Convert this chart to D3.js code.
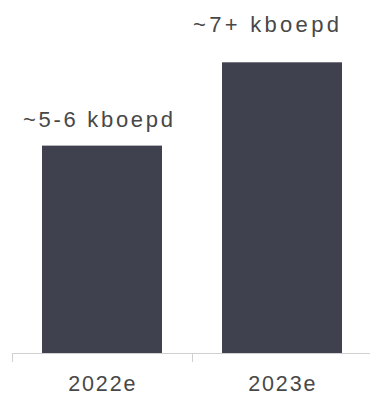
<!DOCTYPE html>
<html><head><meta charset="utf-8">
<script src="https://cdn.jsdelivr.net/npm/d3@7"></script>
<style>body{margin:0;background:#fff}svg{display:block}</style>
</head><body>
<svg id="c" width="370" height="396"></svg>
<script>
const categories = ["2022e", "2023e"];
const values = [5.14, 7.2];
const labels = ["~5-6 kboepd", "~7+ kboepd"];

const svg = d3.select("#c");
const x = d3.scaleBand().domain(categories).range([12, 372]).paddingInner(1/3).paddingOuter(1/6);
const y = d3.scaleLinear().domain([0, 7.2]).range([353.5, 62.3]);

svg.selectAll("rect.bar").data(categories).join("rect")
  .attr("class", "bar")
  .attr("x", d => x(d))
  .attr("width", x.bandwidth())
  .attr("y", (d, i) => y(values[i]))
  .attr("height", (d, i) => y(0) - y(values[i]))
  .attr("fill", "#40414f");

// axis
const ax = svg.append("g");
ax.append("line").attr("x1", 12).attr("x2", 370).attr("y1", 353.5).attr("y2", 353.5)
  .attr("stroke", "#d0d0d0").attr("stroke-width", 1);
const tickXs = [x.range()[0]].concat(categories.map(c => x(c) + x.bandwidth() + x.step() * x.paddingInner() / 2));
ax.selectAll("line.t").data(tickXs).join("line").attr("class", "t")
  .attr("x1", d => Math.round(d) + 0.5).attr("x2", d => Math.round(d) + 0.5).attr("y1", 353.5).attr("y2", 362)
  .attr("stroke", "#d0d0d0");

svg.selectAll("text.cat").data(categories).join("text")
  .attr("class", "cat")
  .attr("x", d => x(d) + x.bandwidth() / 2 + 0.8)
  .attr("y", 391)
  .attr("text-anchor", "middle")
  .attr("font-family", "Liberation Sans, Arial, sans-serif")
  .attr("font-size", 21.5)
  .attr("letter-spacing", 1.9)
  .attr("fill", "#484848")
  .text(d => d);

// value labels: placed left-aligned, with the label's own offsets from the bar
const labelLayout = [{dx: -19, dy: -19}, {dx: -29, dy: -30}];
svg.selectAll("text.val").data(categories).join("text")
  .attr("class", "val")
  .attr("x", (d, i) => x(d) + labelLayout[i].dx)
  .attr("y", (d, i) => y(values[i]) + labelLayout[i].dy)
  .attr("text-anchor", "start")
  .attr("font-family", "Liberation Sans, Arial, sans-serif")
  .attr("font-size", 22)
  .attr("letter-spacing", (d, i) => i === 0 ? 2.7 : 3.3)
  .attr("fill", "#484848")
  .text((d, i) => labels[i]);
</script>
</body></html>
